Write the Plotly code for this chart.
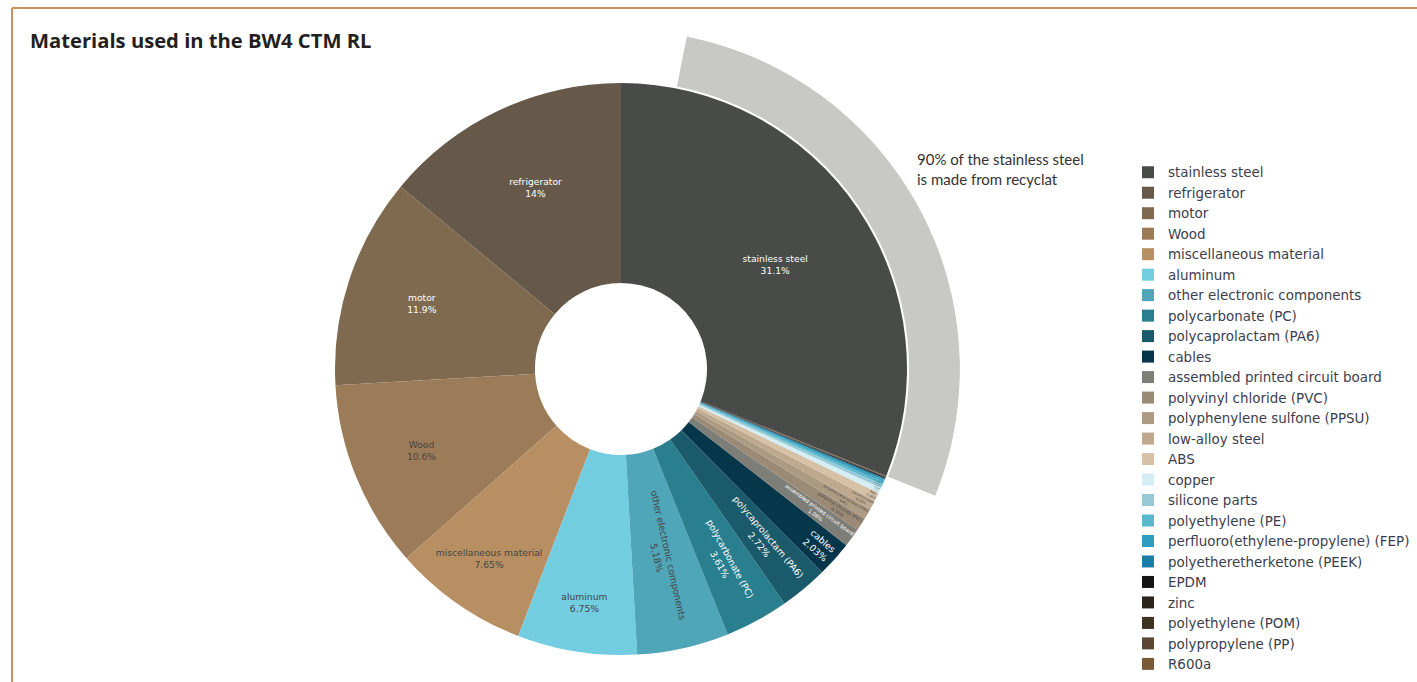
import plotly.graph_objects as go

# Material shares of the appliance (percent of total mass), largest first
materials = [
    "stainless steel", "refrigerator", "motor", "Wood", "miscellaneous material",
    "aluminum", "other electronic components", "polycarbonate (PC)",
    "polycaprolactam (PA6)", "cables", "assembled printed circuit board",
    "polyvinyl chloride (PVC)", "polyphenylene sulfone (PPSU)", "low-alloy steel",
    "ABS", "copper", "silicone parts", "polyethylene (PE)",
    "perfluoro(ethylene-propylene) (FEP)", "polyetheretherketone (PEEK)",
    "EPDM", "zinc", "polyethylene (POM)", "polypropylene (PP)", "R600a",
]
shares = [
    31.1, 14.0, 11.9, 10.6, 7.65,
    6.75, 5.18, 3.61,
    2.72, 2.03, 1.06,
    0.76, 0.60, 0.53,
    0.48, 0.30, 0.20, 0.16,
    0.12, 0.10,
    0.05, 0.04, 0.03, 0.02, 0.01,
]
colors = [
    "#484b47", "#66594a", "#7f6a50", "#9c7c58", "#b88f62",
    "#72cde0", "#4fa6b8", "#2a7f8f", "#1a5a6a", "#05364a",
    "#7e7e78", "#9a8a76", "#ad9a83", "#bfa98e", "#d6c1a7",
    "#d4eef4", "#98c9d6", "#5ab8cc", "#2e9dbf", "#1b7ea6",
    "#141414", "#2a241d", "#3e3223", "#5a4632", "#7a5a36",
]

# Share of the stainless steel that comes from recycled material
recycled_share = 0.90

# Canvas and geometry (pixels)
W, H = 1417, 682
cx, cy = 621, 369          # centre of the donut
r_pie = 286                # outer radius of the donut
r_hole = 86                # radius of the hole
r_ring_in, r_ring_out = 288, 339   # recyclate ring

total = sum(shares)
steel_frac = shares[0] / total
steel_deg = 360 * steel_frac

fig = go.Figure()

# Donut: the first (steel) slice sits clockwise from 12 o'clock,
# the remaining slices follow counterclockwise from the top
fig.add_trace(go.Pie(
    labels=materials,
    values=shares,
    marker=dict(colors=colors, line=dict(width=0)),
    hole=r_hole / r_pie,
    sort=False,
    direction="counterclockwise",
    rotation=0,
    textinfo="label+percent",
    textposition="inside",
    insidetextorientation="auto",
    textfont=dict(family="DejaVu Sans", size=9.2),
    hoverinfo="label+percent",
    domain=dict(
        x=[(cx - r_pie) / W, (cx + r_pie) / W],
        y=[1 - (cy + r_pie) / H, 1 - (cy - r_pie) / H],
    ),
))

# Outer ring over the recycled part of the steel wedge
ring_width = 360 * steel_frac * recycled_share
ring_centre = steel_deg - ring_width / 2
fig.add_trace(go.Barpolar(
    theta=[ring_centre],
    width=[ring_width],
    r=[r_ring_out - r_ring_in],
    base=[r_ring_in],
    marker=dict(color="#c8c9c7", line=dict(width=0)),
    showlegend=False,
    hoverinfo="skip",
    subplot="polar",
))

# Polar sector from -30deg to 90deg: bounding box [0,1] x [-0.5,1] of radius
fig.update_layout(
    polar=dict(
        sector=[-30, 90],
        hole=0,
        domain=dict(
            x=[cx / W, (cx + r_ring_out) / W],
            y=[1 - (cy + 0.5 * r_ring_out) / H, 1 - (cy - r_ring_out) / H],
        ),
        bgcolor="rgba(0,0,0,0)",
        radialaxis=dict(range=[0, r_ring_out], visible=False),
        angularaxis=dict(rotation=90, direction="clockwise", visible=False,
                         showgrid=False, showline=False, showticklabels=False),
    ),
)

fig.update_layout(
    width=W, height=H,
    margin=dict(l=0, r=0, t=0, b=0),
    paper_bgcolor="white",
    plot_bgcolor="white",
    font=dict(family="DejaVu Sans", color="#444"),
    showlegend=True,
    legend=dict(
        x=1128 / W, xanchor="left",
        y=1 - 157 / H, yanchor="top",
        font=dict(family="DejaVu Sans", size=13.45, color="#3c3e4e"),
        bgcolor="rgba(0,0,0,0)",
        traceorder="normal",
    ),
    annotations=[
        dict(
            text="<b>Materials used in the BW4 CTM RL</b>",
            x=28 / W, y=1 - 24 / H, xref="paper", yref="paper",
            xanchor="left", yanchor="top", showarrow=False,
            font=dict(family="Open Sans", size=20.2, color="#231f20"),
        ),
        dict(
            text=f"{recycled_share:.0%} of the stainless steel<br>is made from recyclat",
            x=915 / W, y=1 - 148 / H, xref="paper", yref="paper",
            xanchor="left", yanchor="top", align="left", showarrow=False,
            font=dict(family="Lato", size=15, color="#333"),
        ),
    ],
    shapes=[
        dict(type="line", xref="paper", yref="paper",
             x0=12 / W, x1=1, y0=1 - 8 / H, y1=1 - 8 / H,
             line=dict(color="#c9925a", width=2)),
        dict(type="line", xref="paper", yref="paper",
             x0=12 / W, x1=12 / W, y0=0, y1=1 - 8 / H,
             line=dict(color="#c9925a", width=2)),
    ],
)

fig.write_html("out.html")
